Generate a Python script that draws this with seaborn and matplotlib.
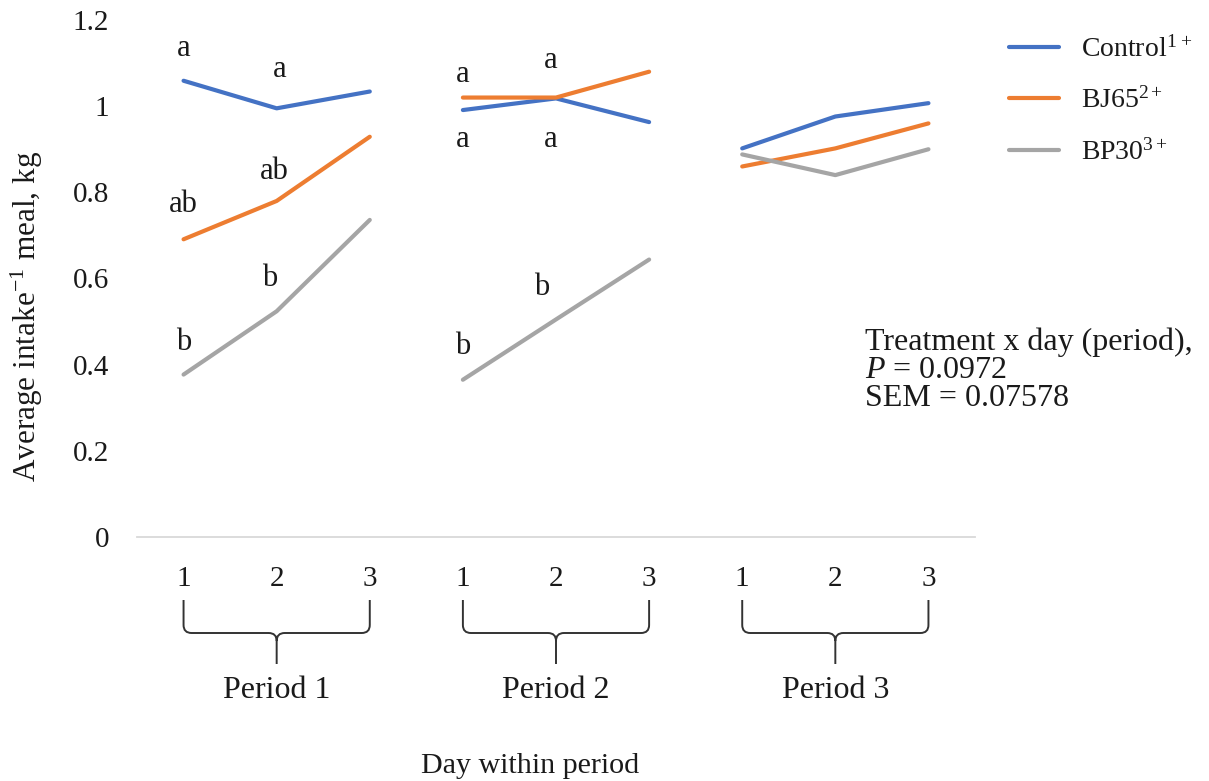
import matplotlib
matplotlib.use("Agg")
import numpy as np
import pandas as pd
import matplotlib.pyplot as plt
import seaborn as sns
from matplotlib.path import Path
from matplotlib.patches import PathPatch
from matplotlib.transforms import blended_transform_factory
from matplotlib.ticker import FuncFormatter

# ---- data -------------------------------------------------------------
periods = ["Period 1", "Period 2", "Period 3"]
days = [1, 2, 3]
treatments = ["Control", "BJ65", "BP30"]
legend_labels = [r"Control$^{1\,+}$", r"BJ65$^{2+}$", r"BP30$^{3+}$"]

# average intake per meal (kg), day 1-3 of periods 1-3
control = [1.059, 0.995, 1.034, 0.991, 1.018, 0.963, 0.902, 0.976, 1.007]
bj65 = [0.691, 0.780, 0.929, 1.020, 1.020, 1.080, 0.860, 0.902, 0.960]
bp30 = [0.377, 0.524, 0.736, 0.365, 0.505, 0.644, 0.888, 0.840, 0.900]

y_ticks = [0, 0.2, 0.4, 0.6, 0.8, 1, 1.2]

# significance letters: (text, x position, y value)
sig_letters = [
    ("a", 0.00, 1.133), ("a", 1.03, 1.086),
    ("ab", 0.00, 0.772), ("ab", 0.98, 0.849),
    ("b", 0.00, 0.451), ("b", 0.92, 0.600),
    ("a", 3.00, 1.074), ("a", 3.94, 1.105),
    ("a", 3.00, 0.923), ("a", 3.94, 0.923),
    ("b", 3.00, 0.442), ("b", 3.85, 0.580),
]

stats_lines = ["Treatment x day (period),", r"$P$ = 0.0972", "SEM = 0.07578"]

colors = ["#4472C4", "#ED7D31", "#A5A5A5"]

# ---- long-form table --------------------------------------------------
rows = []
for name, values in zip(treatments, [control, bj65, bp30]):
    for p, period in enumerate(periods):
        for d, day in enumerate(days):
            rows.append({"treatment": name, "period": period, "day": day,
                         "pos": p * 3 + d, "intake": values[p * 3 + d]})
df = pd.DataFrame(rows)

# ---- style ------------------------------------------------------------
sns.set_theme(style="white")
plt.rcParams["font.family"] = ["Liberation Serif", "DejaVu Serif"]
plt.rcParams["mathtext.fontset"] = "custom"
plt.rcParams["mathtext.rm"] = "Liberation Serif"
plt.rcParams["mathtext.it"] = "Liberation Serif:italic"
plt.rcParams["mathtext.bf"] = "Liberation Serif:bold"
text_color = "#1a1a1a"
fs_tick = 21
fs_text = 23

W, H = 1209, 781
fig = plt.figure(figsize=(W / 100, H / 100), dpi=100)
ax_left, ax_right, ax_bottom, ax_top = 137, 975, 537, 20
ax = fig.add_axes([ax_left / W, 1 - ax_bottom / H,
                   (ax_right - ax_left) / W, (ax_bottom - ax_top) / H])

sns.lineplot(data=df, x="pos", y="intake", hue="treatment", units="period",
             estimator=None, palette=colors, hue_order=treatments,
             linewidth=3, ax=ax, legend=True)

ax.set_xlim(-0.5, 8.5)
ax.set_ylim(0, 1.2)
ax.set_yticks(y_ticks)
ax.yaxis.set_major_formatter(FuncFormatter(lambda v, _: f"{v:g}"))
ax.set_xticks(range(9))
ax.set_xticklabels([str(d) for _ in periods for d in days])
ax.tick_params(axis="both", length=0, labelsize=fs_tick, colors=text_color)
ax.tick_params(axis="y", pad=20)
ax.tick_params(axis="x", pad=21)

for side in ["left", "right", "top"]:
    ax.spines[side].set_visible(False)
ax.spines["bottom"].set_color("#D9D9D9")
ax.spines["bottom"].set_linewidth(1.3)
ax.grid(False)

ax.set_ylabel(r"Average intake$^{-1}$ meal, kg", fontsize=22.5,
              color=text_color)
ax.yaxis.set_label_coords((27 - ax_left) / (ax_right - ax_left),
                          (ax_bottom - 316) / (ax_bottom - ax_top))
ax.yaxis.label.set_va("center")
ax.set_xlabel("Day within period", fontsize=21.6, color=text_color)
ax.xaxis.label.set_va("center")
ax.xaxis.set_label_coords((530 - ax_left) / (ax_right - ax_left),
                          (ax_bottom - 766) / (ax_bottom - ax_top))

# significance letters
for txt, x, y in sig_letters:
    ax.text(x, y, txt, ha="center", va="center", fontsize=22,
            color=text_color)

# statistics note
for i, line in enumerate(stats_lines):
    fig.text(865 / W, 1 - (342 + 28 * i) / H, line, ha="left", va="center",
             fontsize=fs_text, color=text_color)

# braces grouping the days of each period
trans = blended_transform_factory(ax.transData, fig.transFigure)
y_top, y_mid, y_bot = 1 - 600 / H, 1 - 633 / H, 1 - 664 / H
rx, ry = 8 / 93, 8 / H
for p, period in enumerate(periods):
    x0, x1 = p * 3, p * 3 + 2
    xm = (x0 + x1) / 2
    verts = [
        (x0, y_top), (x0, y_mid + ry), (x0, y_mid), (x0 + rx, y_mid),
        (xm - rx, y_mid), (xm, y_mid), (xm, y_mid - ry), (xm, y_bot),
        (x1, y_top), (x1, y_mid + ry), (x1, y_mid), (x1 - rx, y_mid),
        (xm + rx, y_mid), (xm, y_mid), (xm, y_mid - ry),
    ]
    codes = [
        Path.MOVETO, Path.LINETO, Path.CURVE3, Path.CURVE3,
        Path.LINETO, Path.CURVE3, Path.CURVE3, Path.LINETO,
        Path.MOVETO, Path.LINETO, Path.CURVE3, Path.CURVE3,
        Path.LINETO, Path.CURVE3, Path.CURVE3,
    ]
    ax.add_patch(PathPatch(Path(verts, codes), transform=trans, fill=False,
                           edgecolor="#333333", linewidth=1.4, clip_on=False))
    ax.text(xm, 1 - 691 / H, period, transform=trans, ha="center",
            va="center", fontsize=fs_text, color=text_color)

# legend
handles, _ = ax.get_legend_handles_labels()
ax.legend(handles[-3:], legend_labels, loc="upper left",
          bbox_to_anchor=(984 / W, 1 - 11 / H),
          bbox_transform=fig.transFigure, frameon=False, fontsize=20,
          handlelength=1.8, handletextpad=0.8, labelspacing=0.9,
          labelcolor=text_color)

fig.savefig("out.png", dpi=100)
